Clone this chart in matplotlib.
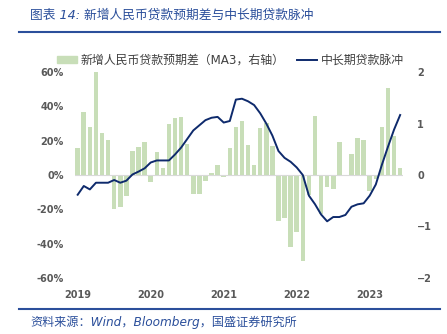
import numpy as np
import matplotlib.pyplot as plt
from matplotlib.lines import Line2D
from matplotlib.patches import Patch

plt.rcParams['font.family'] = ['DejaVu Sans', 'Noto Sans CJK SC']

# monthly data, 2019-01 .. 2023-06
years = ['2019', '2020', '2021', '2022', '2023']
loan_gap = [0.53, 1.23, 0.94, 2.02, 0.82, 0.68, -0.66, -0.63, -0.40, 0.47, 0.54, 0.64,
            -0.14, 0.44, 0.14, 1.00, 1.11, 1.13, 0.61, -0.36, -0.36, -0.12, 0.04, 0.19,
            -0.03, 0.52, 0.94, 1.05, 0.58, 0.19, 0.92, 1.02, 0.57, -0.89, -0.84, -1.39,
            -1.10, -1.68, -0.38, 1.15, -0.75, -0.23, -0.27, 0.65, -0.01, 0.41, 0.72, 0.69,
            -0.32, -0.07, 0.94, 1.70, 0.76, 0.14]
mlt_pulse = [-11.5, -6.4, -8.4, -4.5, -4.5, -4.5, -2.9, -4.5, -3.3, 0.3, 2.0, 3.9,
             7.3, 8.5, 8.5, 8.5, 12.0, 16.0, 21.0, 26.0, 29.0, 32.0, 33.4, 33.9,
             30.6, 31.5, 44.0, 44.5, 43.0, 40.8, 36.0, 30.0, 23.0, 14.0, 10.0, 7.7,
             4.4, 0.0, -12.0, -17.0, -23.0, -27.0, -24.5, -24.5, -23.3, -18.5, -17.1, -16.5,
             -12.0, -5.5, 6.0, 16.5, 26.5, 35.0]

bar_color = '#C8DEB8'
line_color = '#0E2A6C'
tick_color = '#595959'
blue = '#2B4F9B'

x = np.arange(len(loan_gap))

fig = plt.figure(figsize=(4.47, 3.34), dpi=100)
ax = fig.add_axes([0.167, 0.168, 0.735, 0.616])
ax2 = ax.twinx()

ax.axhline(0, color='#D9D9D9', lw=0.8, zorder=0)
ax2.bar(x, loan_gap, width=0.75, color=bar_color, zorder=1)
ax.plot(x, mlt_pulse, color=line_color, lw=1.4, zorder=3)
ax.set_zorder(ax2.get_zorder() + 1)
ax.patch.set_visible(False)

ax.set_xlim(-0.5, len(loan_gap) - 0.5)
ax.set_ylim(-60, 60)
ax2.set_ylim(-2, 2)
ax.set_yticks(np.arange(-60, 61, 20))
ax.set_yticklabels([f'{v}%' for v in range(-60, 61, 20)])
ax2.set_yticks([-2, -1, 0, 1, 2])
ax.set_xticks(np.arange(0, len(loan_gap), 12))
ax.set_xticklabels(years)

for a in (ax, ax2):
    for s in a.spines.values():
        s.set_visible(False)
    a.tick_params(length=0, labelsize=7, labelcolor=tick_color)
    for lab in a.get_xticklabels() + a.get_yticklabels():
        lab.set_fontweight('bold')
ax.tick_params(axis='y', pad=8)
ax2.tick_params(axis='y', pad=10)
ax.tick_params(axis='x', pad=9)

handles = [Patch(color=bar_color, label='新增人民币贷款预期差（MA3，右轴）'),
           Line2D([], [], color=line_color, lw=1.4, label='中长期贷款脉冲')]
fig.legend(handles=handles, loc='center', bbox_to_anchor=(0.515, 0.82), ncol=2,
           frameon=False, fontsize=8.6, handlelength=1.7, handleheight=0.45,
           columnspacing=1.0, handletextpad=0.3, labelcolor='#404040')

fig.text(0.067, 0.955, '图表 14: 新增人民币贷款预期差与中长期贷款脉冲', color=blue,
         fontsize=9.2, style='italic', va='center', ha='left')
fig.add_artist(Line2D([0.043, 0.985], [0.905, 0.905], color=blue, lw=1.5))
fig.add_artist(Line2D([0.043, 0.985], [0.075, 0.075], color=blue, lw=1.5))
fig.text(0.067, 0.036, '资料来源：Wind，Bloomberg，国盛证券研究所', color=blue,
         fontsize=8.7, style='italic', va='center', ha='left')

fig.savefig('out.png', dpi=100)
